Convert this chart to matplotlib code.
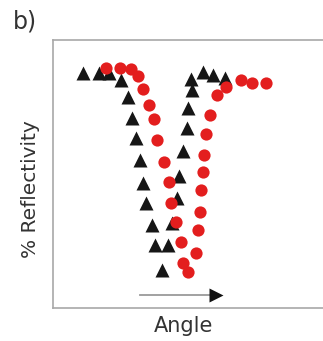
import matplotlib
matplotlib.use("Agg")
import matplotlib.pyplot as plt

# reference curve (black triangles) and shifted curve (red circles)
# x = angle (arbitrary units), y = % reflectivity
tri_angle = [10.7, 16.7, 20.2, 24.7, 27.0, 28.5, 30.0, 31.4, 32.6, 33.6,
             35.6, 36.8, 39.2, 41.6, 43.1, 44.9, 45.4, 46.9, 48.2, 48.8,
             50.1, 49.9, 54.3, 57.8, 62.0]
tri_refl = [87.8, 87.8, 87.7, 84.9, 78.7, 70.9, 63.5, 55.2, 46.5, 39.1,
            31.1, 23.5, 14.2, 23.5, 31.9, 40.9, 49.1, 58.6, 67.2, 74.5,
            81.3, 85.6, 87.9, 86.9, 86.0]

circ_angle = [19.1, 24.2, 28.1, 30.6, 32.5, 34.8, 36.5, 37.7, 40.1, 42.0,
              42.7, 44.4, 46.2, 46.8, 48.6, 51.6, 52.2, 53.0, 53.5, 54.0,
              54.6, 55.3, 56.6, 59.1, 62.6, 67.9, 71.7, 76.9]
circ_refl = [89.4, 89.7, 89.1, 86.5, 81.7, 75.7, 70.5, 62.7, 54.6, 47.1,
             39.1, 32.2, 24.7, 16.7, 13.4, 20.4, 29.0, 35.9, 43.9, 50.9,
             57.1, 65.0, 72.0, 79.6, 82.6, 85.1, 84.0, 84.1]

W, H = 323, 341
XW = W - 53  # axes stops at the figure's right edge (frame cropped there)
fig = plt.figure(figsize=(W / 100, H / 100), dpi=100)
ax = fig.add_axes([53 / W, 33 / H, XW / W, 268 / H])
ax.set_xlim(0, XW / 2.77)
ax.set_ylim(0, 100)

ax.plot(tri_angle, tri_refl, ls="none", marker="^", ms=10.5,
        color="#161616", mec="none")
ax.plot(circ_angle, circ_refl, ls="none", marker="o", ms=8.8,
        color="#e31e1e", mec="none")

# direction arrow: grey shaft, black head
ax.plot([31.4, 57.5], [4.9, 4.9], color="#9a9a9a", lw=1.3)
ax.plot([59.0], [4.9], ls="none", marker=">", ms=10, color="#111111", mec="none")

for s in ["left", "top", "bottom"]:
    ax.spines[s].set_color("#a8a8a8")
    ax.spines[s].set_linewidth(1.2)
ax.spines["right"].set_visible(False)
ax.set_xticks([])
ax.set_yticks([])

ax.set_xlabel("Angle", fontsize=15, color="#333333", va="top")
ax.xaxis.set_label_coords(131 / XW, -8 / 268)
ax.set_ylabel("% Reflectivity", fontsize=14.5, color="#333333", va="center")
ax.yaxis.set_label_coords(-22 / XW, 119 / 268)
fig.text(25 / W, 1 - 22 / H, "b)", fontsize=17, color="#333333",
         ha="center", va="center")

fig.savefig("out.png", dpi=100)
